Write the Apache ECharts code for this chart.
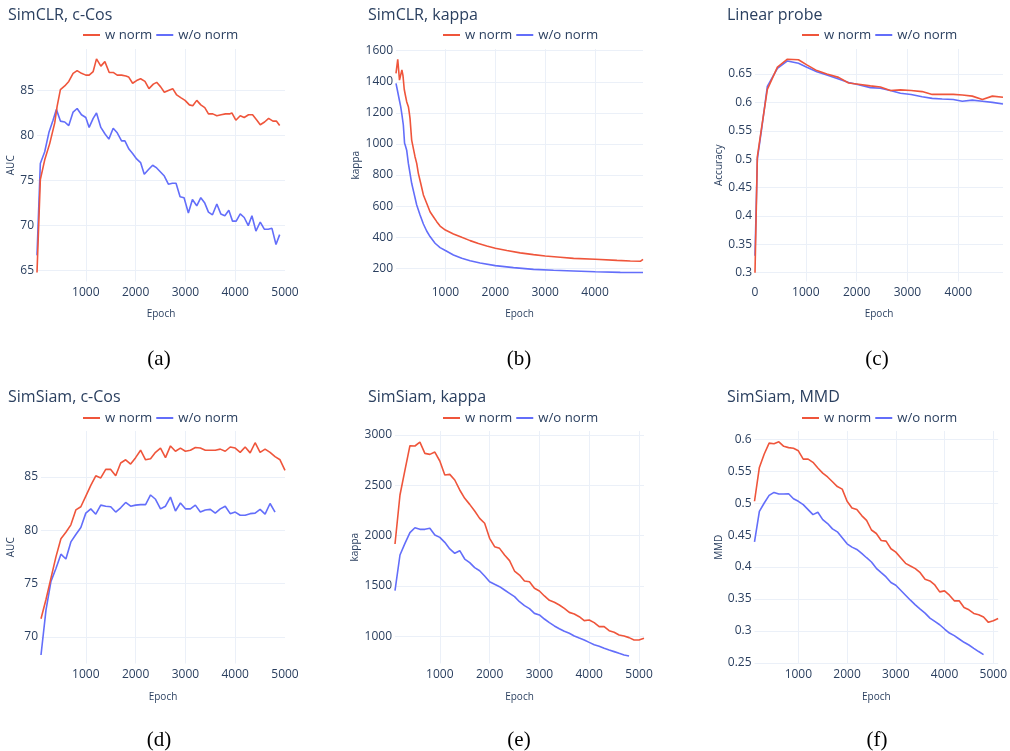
<!DOCTYPE html>
<html>
<head>
<meta charset="utf-8">
<script src="https://cdn.jsdelivr.net/npm/echarts@6/dist/echarts.min.js"></script>
<style>
html,body{margin:0;padding:0;background:#ffffff;}
#chart{width:1010px;height:751px;}
</style>
</head>
<body>
<div id="chart"></div>
<script>
// ---------- DATA ----------
const seriesNames = ['w norm', 'w/o norm'];
const panelTitles = ['SimCLR, c-Cos', 'SimCLR, kappa', 'Linear probe', 'SimSiam, c-Cos', 'SimSiam, kappa', 'SimSiam, MMD'];
const yTitles = ['AUC', 'kappa', 'Accuracy', 'AUC', 'kappa', 'MMD'];
const captions = ['(a)', '(b)', '(c)', '(d)', '(e)', '(f)'];

// (a) SimCLR, c-Cos
const epochA_w = [20,87,175,275,376,423,490,577,658,745,826,913,1000,1067,1148,1215,1302,1383,1470,1550,1631,1718,1805,1859,1940,2020,2100,2188,2268,2356,2423,2503,2577,2658,2745,2825,2906,2993,3080,3148,3228,3309,3389,3463,3550,3631,3718,3805,3886,3933,4013,4101,4181,4268,4349,4436,4503,4590,4671,4758,4826,4893];
const aucA_w = [64.8,75.1,77.3,79.1,81.4,83.2,85.1,85.5,86.0,86.9,87.2,86.9,86.7,86.7,87.1,88.5,87.7,88.2,87.0,87.0,86.7,86.7,86.6,86.5,85.8,86.1,86.3,86.0,85.2,85.7,85.9,85.4,84.8,85.0,85.2,84.5,84.2,83.9,83.4,83.3,83.9,83.4,83.1,82.4,82.4,82.2,82.3,82.4,82.4,82.5,81.7,82.2,82.0,82.3,82.3,81.7,81.2,81.5,81.9,81.6,81.6,81.1];
const epochA_wo = [20,87,175,262,342,409,490,577,658,745,826,913,1000,1067,1148,1215,1302,1383,1463,1550,1631,1718,1785,1866,1940,2020,2100,2174,2255,2342,2423,2510,2577,2658,2738,2812,2893,2973,3060,3141,3228,3309,3389,3463,3544,3631,3711,3792,3872,3946,4020,4101,4181,4262,4336,4416,4503,4584,4664,4738,4819,4893];
const aucA_wo = [66.7,76.9,78.2,80.4,81.7,82.9,81.6,81.5,81.1,82.6,83.0,82.3,82.0,80.9,81.9,82.5,80.9,80.2,79.6,80.8,80.3,79.4,79.4,78.5,78.0,77.4,77.0,75.7,76.2,76.7,76.4,75.9,75.5,74.6,74.7,74.7,73.2,73.1,71.4,72.9,72.2,73.1,72.5,71.5,71.2,72.4,71.3,71.1,71.7,70.5,70.5,71.3,70.9,70.0,71.1,69.4,70.4,69.6,69.6,69.7,67.9,69.0];

// (b) SimCLR, kappa
const epochB_w = [10,45,80,128,150,175,197,224,258,278,291,324,358,391,425,458,505,559,625,692,759,826,893,1000,1161,1328,1495,1662,1829,2000,2231,2498,2766,3000,3301,3569,4003,4438,4706,4906,4960];
const kappaB_w = [1454,1545,1411,1476,1440,1352,1315,1272,1240,1197,1165,1025,1015,918,875,811,747,672,618,564,532,500,472,446,421,399,378,359,344,329,314,299,288,279,271,264,258,251,247,245,258];
const epochB_wo = [10,37,50,77,104,130,157,182,197,224,258,291,324,371,425,492,559,625,692,793,893,1000,1161,1328,1495,1696,2000,2365,2766,3167,3569,4003,4505,4960];
const kappaB_wo = [1390,1347,1355,1283,1240,1186,1122,1004,990,960,875,811,747,682,607,543,485,440,404,361,333,314,286,264,249,234,217,204,193,187,183,178,174,173];

// (c) Linear probe
const epochC = [0,46,132,243,441,638,855,1020,1217,1414,1645,1842,2039,2270,2467,2664,2862,3072,3289,3487,3684,3901,4079,4276,4474,4671,4880];
const accC_w = [0.300,0.504,0.557,0.623,0.662,0.676,0.675,0.666,0.656,0.650,0.644,0.634,0.632,0.629,0.627,0.621,0.622,0.621,0.619,0.614,0.614,0.614,0.613,0.611,0.605,0.611,0.609];
const accC_wo = [0.330,0.500,0.554,0.628,0.660,0.673,0.669,0.662,0.654,0.648,0.641,0.635,0.631,0.626,0.625,0.621,0.616,0.614,0.610,0.607,0.606,0.605,0.602,0.604,0.602,0.600,0.597];

// shared epoch grids for the SimSiam runs
const epochs_to4800 = [100,200,300,400,500,600,700,800,900,1000,1100,1200,1300,1400,1500,1600,1700,1800,1900,2000,2100,2200,2300,2400,2500,2600,2700,2800,2900,3000,3100,3200,3300,3400,3500,3600,3700,3800,3900,4000,4100,4200,4300,4400,4500,4600,4700,4800];
const epochs_to5000 = [100,200,300,400,500,600,700,800,900,1000,1100,1200,1300,1400,1500,1600,1700,1800,1900,2000,2100,2200,2300,2400,2500,2600,2700,2800,2900,3000,3100,3200,3300,3400,3500,3600,3700,3800,3900,4000,4100,4200,4300,4400,4500,4600,4700,4800,4900,5000];
const epochs_to5100 = [100,200,300,400,500,600,700,800,900,1000,1100,1200,1300,1400,1500,1600,1700,1800,1900,2000,2100,2200,2300,2400,2500,2600,2700,2800,2900,3000,3100,3200,3300,3400,3500,3600,3700,3800,3900,4000,4100,4200,4300,4400,4500,4600,4700,4800,4900,5000,5100];

// (d) SimSiam, c-Cos
const aucD_w = [71.7,73.5,75.5,77.5,79.2,79.8,80.5,81.9,82.2,83.2,84.2,85.1,84.9,85.7,85.7,85.1,86.3,86.6,86.2,86.8,87.5,86.6,86.7,87.3,87.7,86.8,87.9,87.4,87.7,87.4,87.5,87.75,87.7,87.5,87.5,87.5,87.6,87.4,87.8,87.7,87.3,87.8,87.25,88.2,87.3,87.6,87.3,86.9,86.6,85.6];
const aucD_wo = [68.3,72.5,75.2,76.4,77.75,77.3,78.9,79.6,80.25,81.6,82.0,81.5,82.35,82.25,82.2,81.7,82.1,82.6,82.25,82.35,82.4,82.4,83.3,82.9,82.0,82.25,83.1,81.8,82.55,82.0,82.0,82.35,81.7,81.9,81.95,81.6,82.0,82.25,81.55,81.7,81.4,81.4,81.55,81.6,81.95,81.5,82.5,81.7];

// (e) SimSiam, kappa
const kappaE_w = [1917,2404,2652,2894,2891,2930,2818,2808,2831,2742,2603,2609,2553,2454,2371,2311,2245,2172,2123,1974,1891,1874,1808,1752,1649,1609,1550,1543,1477,1450,1401,1358,1338,1311,1278,1238,1222,1195,1156,1162,1136,1096,1096,1056,1040,1013,1003,987,964,964,980];
const kappaE_wo = [1454,1808,1924,2030,2079,2063,2063,2073,2007,1983,1934,1868,1825,1851,1768,1732,1682,1652,1599,1543,1517,1493,1460,1427,1394,1344,1305,1275,1228,1212,1172,1136,1103,1076,1050,1030,1003,983,964,940,917,901,881,864,848,831,815,805];

// (f) SimSiam, MMD
const mmdF_w = [0.503,0.556,0.577,0.594,0.593,0.596,0.589,0.587,0.586,0.582,0.569,0.569,0.564,0.555,0.547,0.541,0.5335,0.526,0.522,0.503,0.4925,0.490,0.4806,0.473,0.458,0.4525,0.4416,0.4406,0.4286,0.4234,0.4146,0.4058,0.4016,0.3975,0.3912,0.3809,0.3783,0.372,0.3611,0.3627,0.356,0.3471,0.3471,0.3367,0.3331,0.3274,0.3253,0.3217,0.3134,0.316,0.3196];
const mmdF_wo = [0.4395,0.4873,0.5003,0.5122,0.5169,0.5143,0.5143,0.5148,0.507,0.5029,0.4977,0.4899,0.4821,0.4858,0.4743,0.4681,0.4598,0.4551,0.4458,0.4364,0.4312,0.4276,0.4214,0.4146,0.4079,0.398,0.3912,0.3845,0.3757,0.3715,0.3637,0.3559,0.3481,0.3409,0.3341,0.3279,0.3201,0.3149,0.3097,0.303,0.2967,0.2926,0.2874,0.2822,0.278,0.2728,0.2677,0.263];

// ---------- LAYOUT / STYLE ----------
const RED = '#EF553B', BLUE = '#636EFA', TXT = '#2a3f5f', GRIDC = '#EBF0F8';
const FONT = '"Open Sans", "Noto Sans", sans-serif';

const layout = [
  {grid:{left:37,  top:49,  width:248, height:232.5}, x:[20,5000],  y:[63.8,89.6],   ySplit:5, xMinL:false, xMaxL:true,  yGap:21,   xGap:27.5, titleTop:7.5, legendLeft:83,  legendTop:28.5,  cap:[159,359]},
  {grid:{left:396, top:49,  width:247, height:232.5}, x:[10,4960],  y:[115,1611],    ySplit:7, xMinL:false, xMaxL:false, yGap:21.5, xGap:27.5, titleTop:7.5, legendLeft:443, legendTop:28.5,  cap:[519,359]},
  {grid:{left:755, top:49,  width:248, height:232.5}, x:[0,4880],   y:[0.2845,0.694],ySplit:8, xMinL:true,  xMaxL:false, yGap:24.5, xGap:27.5, titleTop:7.5, legendLeft:802, legendTop:28.5,  cap:[877,359]},
  {grid:{left:41,  top:431, width:244, height:232.5}, x:[100,5000], y:[67.5,89.3],   ySplit:4, xMinL:false, xMaxL:true,  yGap:25,   xGap:28.8, titleTop:389.5, legendLeft:83,  legendTop:411.5, cap:[159,740]},
  {grid:{left:395, top:431, width:249, height:232.5}, x:[100,5100], y:[730,3040],    ySplit:5, xMinL:false, xMaxL:false, yGap:27.5, xGap:28.8, titleTop:389.5, legendLeft:443, legendTop:411.5, cap:[519,740]},
  {grid:{left:754.5,top:431,width:249, height:232.5}, x:[100,5100], y:[0.249,0.613], ySplit:7, xMinL:false, xMaxL:false, yGap:24.5, xGap:28.8, titleTop:389.5, legendLeft:802, legendTop:411.5, cap:[877,740]}
];
const titleLeft = [8, 368, 727, 8, 368, 727];

const seriesData = [
  [[epochA_w, aucA_w], [epochA_wo, aucA_wo]],
  [[epochB_w, kappaB_w], [epochB_wo, kappaB_wo]],
  [[epochC, accC_w], [epochC, accC_wo]],
  [[epochs_to5000, aucD_w], [epochs_to4800, aucD_wo]],
  [[epochs_to5100, kappaE_w], [epochs_to4800, kappaE_wo]],
  [[epochs_to5100, mmdF_w], [epochs_to4800, mmdF_wo]]
];

function zip(xs, ys) { return xs.map((x, i) => [x, ys[i]]); }
function fmt(v) { return String(+(+v).toFixed(4)); }

const option = {
  animation: false,
  backgroundColor: '#ffffff',
  title: [], legend: [], grid: [], xAxis: [], yAxis: [], series: [], graphic: []
};

layout.forEach((L, i) => {
  option.grid.push(Object.assign({containLabel:false}, L.grid));
  option.title.push({
    text: panelTitles[i], left: titleLeft[i], top: L.titleTop, padding: 0,
    textStyle: {fontFamily: FONT, fontSize: 16, fontWeight: 'normal', color: TXT}
  });
  option.legend.push({
    data: seriesNames, left: L.legendLeft, top: L.legendTop, padding: 0,
    icon: 'rect', itemWidth: 17, itemHeight: 2, itemGap: 4, selectedMode: false,
    textStyle: {fontFamily: FONT, fontSize: 13.2, color: TXT}
  });
  option.xAxis.push({
    type: 'value', gridIndex: i, min: L.x[0], max: L.x[1], splitNumber: 5,
    name: 'Epoch', nameLocation: 'middle', nameGap: L.xGap,
    nameTextStyle: {fontFamily: FONT, fontSize: 10, color: TXT},
    axisLine: {show: false}, axisTick: {show: false},
    axisLabel: {fontFamily: FONT, fontSize: 12, color: TXT, margin: 5.5, formatter: fmt,
                showMinLabel: L.xMinL, showMaxLabel: L.xMaxL},
    splitLine: {show: true, showMinLine: false, showMaxLine: false, lineStyle: {color: GRIDC, width: 1}}
  });
  option.yAxis.push({
    type: 'value', gridIndex: i, min: L.y[0], max: L.y[1], splitNumber: L.ySplit,
    name: yTitles[i], nameLocation: 'middle', nameGap: L.yGap,
    nameTextStyle: {fontFamily: FONT, fontSize: 10, color: TXT},
    axisLine: {show: false}, axisTick: {show: false},
    axisLabel: {fontFamily: FONT, fontSize: 12, color: TXT, margin: 3, formatter: fmt,
                showMinLabel: false, showMaxLabel: false},
    splitLine: {show: true, showMinLine: false, showMaxLine: false, lineStyle: {color: GRIDC, width: 1}}
  });
  seriesData[i].forEach((pair, k) => {
    option.series.push({
      name: seriesNames[k], type: 'line', xAxisIndex: i, yAxisIndex: i,
      data: zip(pair[0], pair[1]), showSymbol: false, symbol: 'none',
      lineStyle: {width: 1.6, color: k === 0 ? RED : BLUE},
      itemStyle: {color: k === 0 ? RED : BLUE},
      emphasis: {disabled: true}, z: k === 0 ? 3 : 2
    });
  });
  option.graphic.push({
    type: 'text', x: L.cap[0], y: L.cap[1],
    style: {text: captions[i], fill: '#000000', font: '21px "Liberation Serif", "DejaVu Serif", serif',
            textAlign: 'center', textVerticalAlign: 'middle'}
  });
});

const chart = echarts.init(document.getElementById('chart'), null, {renderer: 'canvas'});
chart.setOption(option);
</script>
</body>
</html>
